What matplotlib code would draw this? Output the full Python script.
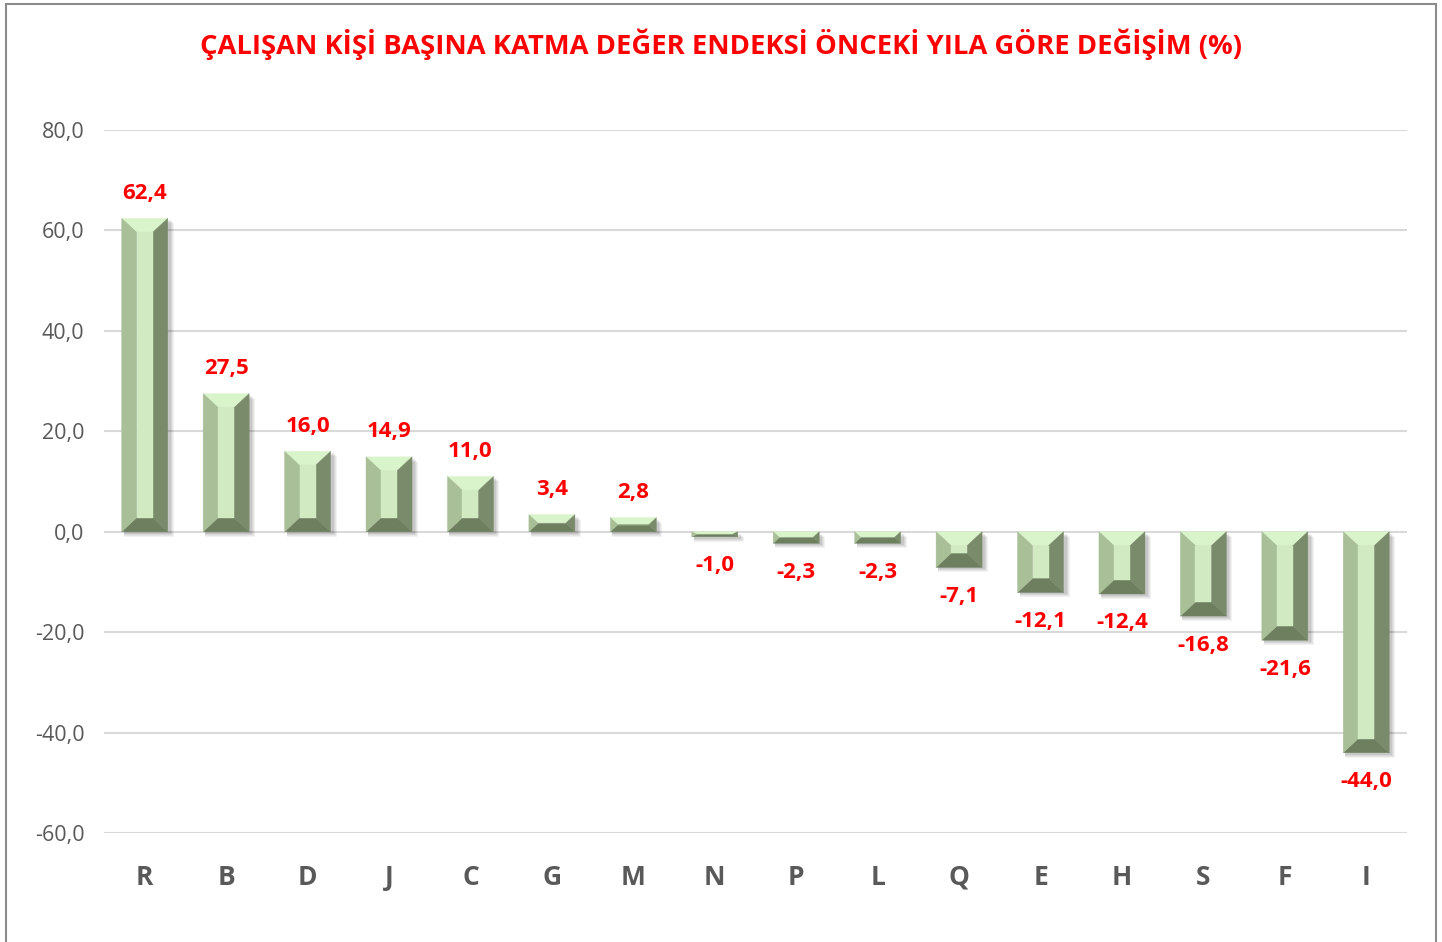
import matplotlib
matplotlib.use("Agg")
import matplotlib.pyplot as plt
from matplotlib.patches import Polygon, Rectangle

categories = ["R", "B", "D", "J", "C", "G", "M", "N", "P", "L", "Q", "E", "H", "S", "F", "I"]
values = [62.4, 27.5, 16.0, 14.9, 11.0, 3.4, 2.8, -1.0, -2.3, -2.3, -7.1, -12.1, -12.4, -16.8, -21.6, -44.0]
y_ticks = [-60, -40, -20, 0, 20, 40, 60, 80]

TITLE = "ÇALIŞAN KİŞİ BAŞINA KATMA DEĞER ENDEKSİ ÖNCEKİ YILA GÖRE DEĞİŞİM (%)"

FACE_TOP = "#d9f3ca"
FACE_LEFT = "#a8bf98"
FACE_CENTER = "#d2eac2"
FACE_RIGHT = "#7a8b6b"
FACE_BOTTOM = "#6e7f60"
FONT = "Open Sans"


def fmt(v):
    return f"{v:.1f}".replace(".", ",")


fig = plt.figure(figsize=(14.42, 9.42), dpi=100)
ax = fig.add_axes([104 / 1442, 1 - 833 / 942, 1303 / 1442, 703 / 942])
ax.set_xlim(-0.5, len(categories) - 0.5)
ax.set_ylim(-60, 80)

# data units per pixel
px_x = (len(categories)) / 1303
px_y = 140 / 703

bar_w = 46 * px_x
bev_x_full = 15 * px_x
bev_y_full = 14 * px_y

for i, v in enumerate(values):
    x0 = i - bar_w / 2
    x1 = i + bar_w / 2
    lo, hi = min(0, v), max(0, v)
    h = hi - lo
    by = min(bev_y_full, h / 2)
    bx = bev_x_full * (by / bev_y_full) if h / 2 < bev_y_full else bev_x_full
    bx = max(bx, bev_x_full * 0.35)

    # soft drop shadow
    for k, a in enumerate([0.05, 0.05, 0.06, 0.07]):
        off = (4 - k)
        ax.add_patch(Rectangle((x0 + 2 * px_x, lo - off * px_y - 1 * px_y),
                               bar_w + off * px_x, h,
                               facecolor="#000000", alpha=a, linewidth=0, zorder=2))

    faces = [
        ([(x0, hi), (x1, hi), (x1 - bx, hi - by), (x0 + bx, hi - by)], FACE_TOP),
        ([(x0, lo), (x1, lo), (x1 - bx, lo + by), (x0 + bx, lo + by)], FACE_BOTTOM),
        ([(x0, lo), (x0, hi), (x0 + bx, hi - by), (x0 + bx, lo + by)], FACE_LEFT),
        ([(x1, lo), (x1, hi), (x1 - bx, hi - by), (x1 - bx, lo + by)], FACE_RIGHT),
        ([(x0 + bx, lo + by), (x1 - bx, lo + by), (x1 - bx, hi - by), (x0 + bx, hi - by)], FACE_CENTER),
    ]
    for pts, col in faces:
        ax.add_patch(Polygon(pts, closed=True, facecolor=col, edgecolor=col,
                             linewidth=0.3, zorder=3))

    y_lab = hi + 25 * px_y if v >= 0 else lo - 29 * px_y
    ax.text(i, y_lab, fmt(v), ha="center", va="center",
            color="#ff0000", fontsize=16, fontweight="bold", family=FONT, zorder=5)

ax.set_yticks(y_ticks)
ax.set_yticklabels([fmt(t) for t in y_ticks], color="#595959", fontsize=15.5, family=FONT)
ax.set_xticks(range(len(categories)))
ax.set_xticklabels(categories, color="#595959", fontsize=19, fontweight="bold", family=FONT)
ax.tick_params(axis="both", length=0)
ax.tick_params(axis="y", pad=14)
ax.tick_params(axis="x", pad=22)
ax.grid(axis="y", color="#d9d9d9", linewidth=1.5, zorder=0)
ax.set_axisbelow(True)
for s in ax.spines.values():
    s.set_visible(False)

fig.text(721 / 1442, 1 - 44 / 942, TITLE, ha="center", va="center",
         color="#ff0000", fontsize=19.7, fontweight="bold", family=FONT)

# chart frame
fig.add_artist(Rectangle((6 / 1442, -0.01), 1430 / 1442, 1.01 - 4 / 942,
                         transform=fig.transFigure, fill=False,
                         edgecolor="#8c8c8c", linewidth=1.5))

fig.savefig("out.png", dpi=100)
